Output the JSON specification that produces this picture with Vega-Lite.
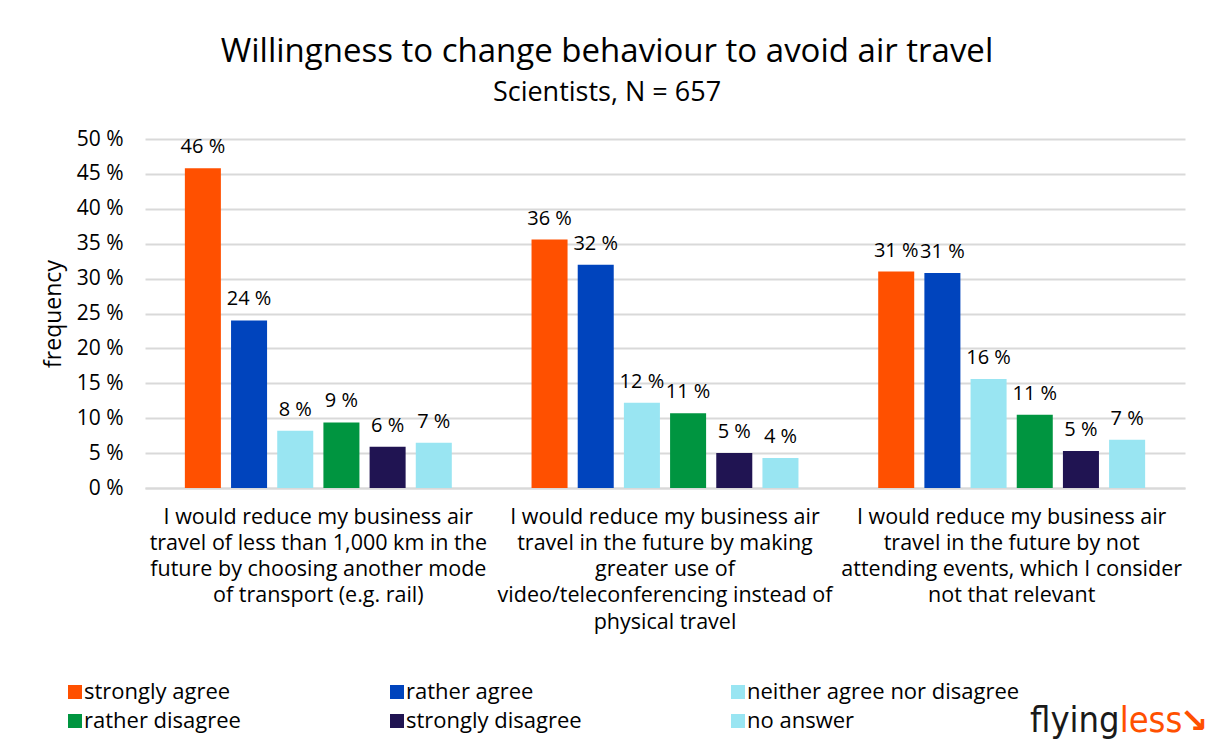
{
  "$schema": "https://vega.github.io/schema/vega-lite/v6.json",
  "width": 1040,
  "height": 349,
  "autosize": {"type": "none"},
  "padding": {"left": 145, "top": 139, "right": 27, "bottom": 258},
  "background": "white",
  "config": {"view": {"stroke": null}},
  "title": {
    "text": "Willingness to change behaviour to avoid air travel",
    "subtitle": "Scientists, N = 657",
    "anchor": "middle",
    "frame": "group",
    "dx": -58,
    "font": "Open Sans",
    "subtitleFont": "Open Sans",
    "fontSize": 33,
    "subtitleFontSize": 27,
    "fontWeight": "normal",
    "color": "black",
    "subtitleColor": "black",
    "offset": 22,
    "subtitlePadding": 11
  },
  "datasets": {
    "survey": [
      {"question": "I would reduce my business air travel of less than 1,000 km in the future by choosing another mode of transport (e.g. rail)", "response": "strongly agree", "value": 45.8, "label": "46 %"},
      {"question": "I would reduce my business air travel of less than 1,000 km in the future by choosing another mode of transport (e.g. rail)", "response": "rather agree", "value": 24.0, "label": "24 %"},
      {"question": "I would reduce my business air travel of less than 1,000 km in the future by choosing another mode of transport (e.g. rail)", "response": "neither agree nor disagree", "value": 8.2, "label": "8 %"},
      {"question": "I would reduce my business air travel of less than 1,000 km in the future by choosing another mode of transport (e.g. rail)", "response": "rather disagree", "value": 9.4, "label": "9 %"},
      {"question": "I would reduce my business air travel of less than 1,000 km in the future by choosing another mode of transport (e.g. rail)", "response": "strongly disagree", "value": 5.9, "label": "6 %"},
      {"question": "I would reduce my business air travel of less than 1,000 km in the future by choosing another mode of transport (e.g. rail)", "response": "no answer", "value": 6.5, "label": "7 %"},
      {"question": "I would reduce my business air travel in the future by making greater use of video/teleconferencing instead of physical travel", "response": "strongly agree", "value": 35.6, "label": "36 %"},
      {"question": "I would reduce my business air travel in the future by making greater use of video/teleconferencing instead of physical travel", "response": "rather agree", "value": 32.0, "label": "32 %"},
      {"question": "I would reduce my business air travel in the future by making greater use of video/teleconferencing instead of physical travel", "response": "neither agree nor disagree", "value": 12.2, "label": "12 %"},
      {"question": "I would reduce my business air travel in the future by making greater use of video/teleconferencing instead of physical travel", "response": "rather disagree", "value": 10.7, "label": "11 %"},
      {"question": "I would reduce my business air travel in the future by making greater use of video/teleconferencing instead of physical travel", "response": "strongly disagree", "value": 5.0, "label": "5 %"},
      {"question": "I would reduce my business air travel in the future by making greater use of video/teleconferencing instead of physical travel", "response": "no answer", "value": 4.3, "label": "4 %"},
      {"question": "I would reduce my business air travel in the future by not attending events, which I consider not that relevant", "response": "strongly agree", "value": 31.0, "label": "31 %"},
      {"question": "I would reduce my business air travel in the future by not attending events, which I consider not that relevant", "response": "rather agree", "value": 30.8, "label": "31 %"},
      {"question": "I would reduce my business air travel in the future by not attending events, which I consider not that relevant", "response": "neither agree nor disagree", "value": 15.6, "label": "16 %"},
      {"question": "I would reduce my business air travel in the future by not attending events, which I consider not that relevant", "response": "rather disagree", "value": 10.5, "label": "11 %"},
      {"question": "I would reduce my business air travel in the future by not attending events, which I consider not that relevant", "response": "strongly disagree", "value": 5.3, "label": "5 %"},
      {"question": "I would reduce my business air travel in the future by not attending events, which I consider not that relevant", "response": "no answer", "value": 6.9, "label": "7 %"}
    ]
  },
  "layer": [
    {
      "data": {"name": "survey"},
      "mark": {"type": "bar"},
      "encoding": {
        "x": {
          "field": "question",
          "type": "nominal",
          "sort": null,
          "scale": {"paddingInner": 0.23, "paddingOuter": 0.115},
          "axis": {
            "title": null,
            "labelAngle": 0,
            "labelFont": "Open Sans",
            "labelFontSize": 21.5,
            "labelColor": "black",
            "labelLineHeight": 26.3,
            "labelPadding": 18,
            "labelBaseline": "top",
            "labelLimit": 0,
            "ticks": false,
            "domain": true,
            "domainColor": "#d9d9d9",
            "domainWidth": 2,
            "labelExpr": "indexof(datum.value, '1,000') >= 0 ? ['I would reduce my business air', 'travel of less than 1,000 km in the', 'future by choosing another mode', 'of transport (e.g. rail)'] : indexof(datum.value, 'video') >= 0 ? ['I would reduce my business air', 'travel in the future by making', 'greater use of', 'video/teleconferencing instead of', 'physical travel'] : ['I would reduce my business air', 'travel in the future by not', 'attending events, which I consider', 'not that relevant']"
          }
        },
        "xOffset": {
          "field": "response",
          "type": "nominal",
          "sort": ["strongly agree", "rather agree", "neither agree nor disagree", "rather disagree", "strongly disagree", "no answer"],
          "scale": {"paddingInner": 0.22, "paddingOuter": 0}
        },
        "y": {
          "field": "value",
          "type": "quantitative",
          "scale": {"domain": [0, 50]},
          "axis": {
            "title": "frequency",
            "titleFont": "Open Sans",
            "titleFontSize": 23,
            "titleFontWeight": "normal",
            "titleColor": "black",
            "titleX": -92,
            "titleBaseline": "middle",
            "values": [0, 5, 10, 15, 20, 25, 30, 35, 40, 45, 50],
            "tickCount": 12,
            "labelOverlap": false,
            "labelExpr": "datum.value + ' %'",
            "labelFont": "Open Sans",
            "labelFontSize": 21,
            "labelColor": "black",
            "labelPadding": 22,
            "ticks": false,
            "domain": false,
            "grid": true,
            "gridColor": "#d9d9d9",
            "gridWidth": 2
          }
        },
        "color": {
          "field": "response",
          "type": "nominal",
          "sort": ["strongly agree", "rather agree", "neither agree nor disagree", "rather disagree", "strongly disagree", "no answer"],
          "scale": {
            "domain": ["strongly agree", "rather agree", "neither agree nor disagree", "rather disagree", "strongly disagree", "no answer"],
            "range": ["#FF5000", "#0044BD", "#99E5F2", "#009540", "#201452", "#99E5F2"]
          },
          "legend": {
            "title": null,
            "orient": "none",
            "legendX": -81,
            "legendY": 542,
            "direction": "horizontal",
            "columns": 3,
            "columnPadding": 145,
            "rowPadding": 7,
            "symbolType": "square",
            "symbolSize": 196,
            "symbolStrokeWidth": 0,
            "labelOffset": -2,
            "labelFont": "Open Sans",
            "labelFontSize": 22,
            "labelColor": "black",
            "labelLimit": 0
          }
        }
      }
    },
    {
      "data": {"name": "survey"},
      "mark": {"type": "text", "baseline": "alphabetic", "dy": -15, "font": "Open Sans", "fontSize": 20, "color": "black"},
      "encoding": {
        "x": {"field": "question", "type": "nominal", "sort": null},
        "xOffset": {
          "field": "response",
          "type": "nominal",
          "sort": ["strongly agree", "rather agree", "neither agree nor disagree", "rather disagree", "strongly disagree", "no answer"]
        },
        "y": {
          "field": "value",
          "type": "quantitative",
          "axis": {
            "title": "frequency",
            "titleFont": "Open Sans",
            "titleFontSize": 23,
            "titleFontWeight": "normal",
            "titleColor": "black",
            "titleX": -92,
            "titleBaseline": "middle",
            "values": [0, 5, 10, 15, 20, 25, 30, 35, 40, 45, 50],
            "tickCount": 12,
            "labelOverlap": false,
            "labelExpr": "datum.value + ' %'",
            "labelFont": "Open Sans",
            "labelFontSize": 21,
            "labelColor": "black",
            "labelPadding": 22,
            "ticks": false,
            "domain": false,
            "grid": true,
            "gridColor": "#d9d9d9",
            "gridWidth": 2
          }
        },
        "text": {"field": "label"}
      }
    },
    {
      "data": {"values": [{"t": "flying"}]},
      "mark": {"type": "text", "align": "right", "baseline": "alphabetic", "dx": 108, "font": "DejaVu Sans Condensed", "fontSize": 36, "color": "#1a1a1a"},
      "encoding": {
        "x": {"datum": "I would reduce my business air travel in the future by not attending events, which I consider not that relevant"},
        "y": {
          "datum": -35,
          "axis": {
            "title": "frequency",
            "titleFont": "Open Sans",
            "titleFontSize": 23,
            "titleFontWeight": "normal",
            "titleColor": "black",
            "titleX": -92,
            "titleBaseline": "middle",
            "values": [0, 5, 10, 15, 20, 25, 30, 35, 40, 45, 50],
            "tickCount": 12,
            "labelOverlap": false,
            "labelExpr": "datum.value + ' %'",
            "labelFont": "Open Sans",
            "labelFontSize": 21,
            "labelColor": "black",
            "labelPadding": 22,
            "ticks": false,
            "domain": false,
            "grid": true,
            "gridColor": "#d9d9d9",
            "gridWidth": 2
          }
        },
        "text": {"field": "t"}
      }
    },
    {
      "data": {"values": [{"t": "less"}]},
      "mark": {"type": "text", "align": "left", "baseline": "alphabetic", "dx": 108, "font": "DejaVu Sans Condensed", "fontSize": 36, "color": "#FF5000"},
      "encoding": {
        "x": {"datum": "I would reduce my business air travel in the future by not attending events, which I consider not that relevant"},
        "y": {
          "datum": -35,
          "axis": {
            "title": "frequency",
            "titleFont": "Open Sans",
            "titleFontSize": 23,
            "titleFontWeight": "normal",
            "titleColor": "black",
            "titleX": -92,
            "titleBaseline": "middle",
            "values": [0, 5, 10, 15, 20, 25, 30, 35, 40, 45, 50],
            "tickCount": 12,
            "labelOverlap": false,
            "labelExpr": "datum.value + ' %'",
            "labelFont": "Open Sans",
            "labelFontSize": 21,
            "labelColor": "black",
            "labelPadding": 22,
            "ticks": false,
            "domain": false,
            "grid": true,
            "gridColor": "#d9d9d9",
            "gridWidth": 2
          }
        },
        "text": {"field": "t"}
      }
    },
    {
      "data": {"values": [{"t": "↘"}]},
      "mark": {"type": "text", "align": "left", "baseline": "alphabetic", "dx": 168, "font": "DejaVu Sans", "fontSize": 34, "fontWeight": "bold", "color": "#FF5000"},
      "encoding": {
        "x": {"datum": "I would reduce my business air travel in the future by not attending events, which I consider not that relevant"},
        "y": {
          "datum": -35,
          "axis": {
            "title": "frequency",
            "titleFont": "Open Sans",
            "titleFontSize": 23,
            "titleFontWeight": "normal",
            "titleColor": "black",
            "titleX": -92,
            "titleBaseline": "middle",
            "values": [0, 5, 10, 15, 20, 25, 30, 35, 40, 45, 50],
            "tickCount": 12,
            "labelOverlap": false,
            "labelExpr": "datum.value + ' %'",
            "labelFont": "Open Sans",
            "labelFontSize": 21,
            "labelColor": "black",
            "labelPadding": 22,
            "ticks": false,
            "domain": false,
            "grid": true,
            "gridColor": "#d9d9d9",
            "gridWidth": 2
          }
        },
        "text": {"field": "t"}
      }
    }
  ]
}
